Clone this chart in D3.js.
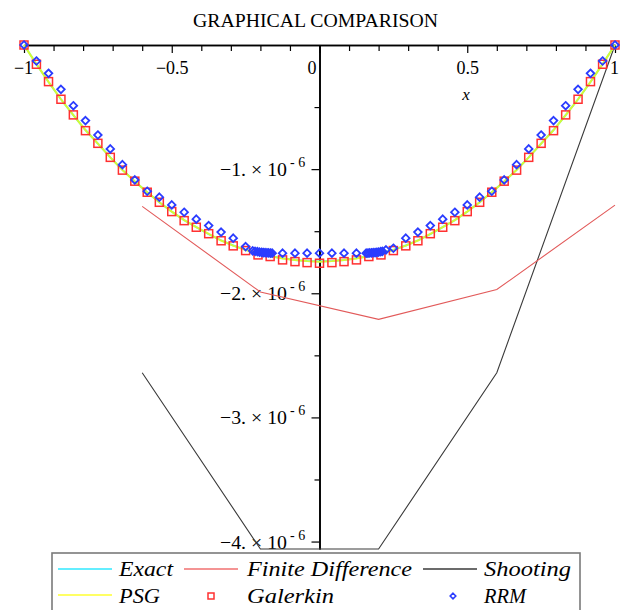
<!DOCTYPE html>
<meta charset="utf-8">
<style>
body { margin: 0; background: #fff; }
.tick text { font-family: "Liberation Serif", serif; font-size: 18px; fill: #000; }
.lab { font-family: "Liberation Serif", serif; font-size: 18px; }
.leg text { font-family: "Liberation Serif", serif; font-style: italic; font-size: 21px; }
</style>
<body>
<svg id="chart" width="626" height="610"></svg>
<script src="https://d3js.org/d3.v7.min.js"></script>
<script type="text/javascript">
// values are in units of 1e-6
var gridX = [-1, -0.958, -0.917, -0.875, -0.833, -0.792, -0.75, -0.708, -0.667, -0.625, -0.583, -0.542, -0.5,
  -0.458, -0.417, -0.375, -0.333, -0.292, -0.25, -0.208, -0.167, -0.125, -0.083, -0.042, 0,
  0.042, 0.083, 0.125, 0.167, 0.208, 0.25, 0.292, 0.333, 0.375, 0.417, 0.458, 0.5,
  0.542, 0.583, 0.625, 0.667, 0.708, 0.75, 0.792, 0.833, 0.875, 0.917, 0.958, 1];

var exactY = [0, -0.153, -0.298, -0.437, -0.565, -0.685, -0.795, -0.905, -1.006, -1.1, -1.186, -1.267, -1.342,
  -1.41, -1.468, -1.523, -1.574, -1.615, -1.65, -1.678, -1.7, -1.718, -1.731, -1.74, -1.745,
  -1.74, -1.731, -1.718, -1.7, -1.678, -1.65, -1.615, -1.574, -1.523, -1.468, -1.41, -1.342,
  -1.267, -1.186, -1.1, -1.006, -0.905, -0.795, -0.685, -0.565, -0.437, -0.298, -0.153, 0];

var psgY = [0, -0.154, -0.297, -0.437, -0.564, -0.686, -0.794, -0.905, -1.007, -1.099, -1.186, -1.267, -1.342,
  -1.411, -1.468, -1.522, -1.575, -1.616, -1.652, -1.68, -1.701, -1.719, -1.732, -1.741, -1.746,
  -1.741, -1.732, -1.719, -1.701, -1.68, -1.652, -1.616, -1.575, -1.522, -1.468, -1.411, -1.342,
  -1.267, -1.186, -1.099, -1.007, -0.905, -0.794, -0.686, -0.564, -0.437, -0.297, -0.154, 0];

var galerkinY = [0, -0.155, -0.295, -0.437, -0.563, -0.69, -0.792, -0.905, -1.008, -1.097, -1.186, -1.267, -1.342,
  -1.415, -1.468, -1.52, -1.577, -1.618, -1.656, -1.691, -1.704, -1.731, -1.745, -1.753, -1.758,
  -1.753, -1.745, -1.731, -1.704, -1.691, -1.656, -1.618, -1.577, -1.52, -1.468, -1.415, -1.342,
  -1.267, -1.186, -1.097, -1.008, -0.905, -0.792, -0.69, -0.563, -0.437, -0.295, -0.155, 0];

var rrmX = [-1, -0.958, -0.917, -0.875, -0.833, -0.792, -0.75, -0.708, -0.667, -0.625, -0.583, -0.542, -0.5,
  -0.458, -0.417, -0.375, -0.333, -0.292, -0.25,
  -0.226, -0.218, -0.21, -0.203, -0.196, -0.19, -0.184, -0.178, -0.172, -0.166, -0.16,
  -0.125, -0.083, -0.042, 0, 0.042, 0.083, 0.125,
  0.158, 0.164, 0.17, 0.176, 0.182, 0.188, 0.194, 0.2, 0.207, 0.213, 0.225,
  0.25, 0.292, 0.333, 0.375, 0.417, 0.458, 0.5,
  0.542, 0.583, 0.625, 0.667, 0.708, 0.75, 0.792, 0.833, 0.875, 0.917, 0.958, 1];

var rrmY = [0, -0.129, -0.228, -0.357, -0.489, -0.609, -0.725, -0.837, -0.964, -1.087, -1.178, -1.226, -1.288,
  -1.347, -1.403, -1.455, -1.507, -1.556, -1.624,
  -1.658, -1.662, -1.665, -1.668, -1.67, -1.672, -1.673, -1.674, -1.675, -1.676, -1.677,
  -1.677, -1.677, -1.677, -1.677, -1.677, -1.677, -1.677,
  -1.677, -1.676, -1.675, -1.674, -1.673, -1.672, -1.67, -1.668, -1.665, -1.662, -1.65,
  -1.637, -1.556, -1.507, -1.455, -1.403, -1.347, -1.288,
  -1.226, -1.178, -1.087, -0.964, -0.837, -0.725, -0.609, -0.489, -0.357, -0.228, -0.129, 0];

var nodeX = [-0.6, -0.2, 0.2, 0.6, 1.0];
var finiteDiffY = [-1.30, -1.99, -2.21, -1.97, -1.29];
var shootingY = [-2.64, -4.06, -4.06, -2.64, 0];

var xMajor = [-1, -0.5, 0, 0.5, 1];
var xMinor = [-0.9, -0.8, -0.7, -0.6, -0.4, -0.3, -0.2, -0.1, 0.1, 0.2, 0.3, 0.4, 0.6, 0.7, 0.8, 0.9];
var yMajor = [-1, -2, -3, -4];
var yMinor = [-0.5, -1.5, -2.5, -3.5];

var svg = d3.select("#chart");

var x = d3.scaleLinear().domain([-1, 1]).range([24, 615]);
var y = d3.scaleLinear().domain([0, -4.06]).range([45, 549]);

// title
svg.append("text")
  .attr("class", "lab")
  .attr("x", 315.5).attr("y", 27)
  .attr("text-anchor", "middle")
  .attr("textLength", 245)
  .attr("lengthAdjust", "spacingAndGlyphs")
  .style("font-size", "18px")
  .text("GRAPHICAL COMPARISON");

// x axis along the top
var xAxisG = svg.append("g").attr("transform", "translate(0,45)");
xAxisG.call(d3.axisBottom(x).tickValues(xMinor).tickSize(6).tickSizeOuter(0).tickFormat(""));
xAxisG.append("g").call(d3.axisBottom(x).tickValues(xMajor).tickSize(8).tickSizeOuter(0)
  .tickFormat(function(d) { return d === 0 ? "0" : (d < 0 ? "\u2212" + (-d) : "" + d); }));
xAxisG.selectAll("path").attr("stroke", "#000").attr("stroke-width", 1.6);
xAxisG.selectAll("line").attr("stroke", "#000").attr("stroke-width", 1.2);
xAxisG.selectAll(".tick text").attr("y", 12).attr("dy", "0.95em");
xAxisG.selectAll(".tick").filter(function(d) { return d === 0; }).select("text").attr("dx", -8);
xAxisG.selectAll(".tick").filter(function(d) { return d === -1; }).select("text").attr("dx", -1);
xAxisG.selectAll(".tick").filter(function(d) { return d === 1; }).select("text").attr("dx", -1);

svg.append("text")
  .attr("x", 466).attr("y", 100)
  .attr("text-anchor", "middle")
  .style("font-family", "Liberation Serif, serif")
  .style("font-style", "italic")
  .style("font-size", "17px")
  .text("x");

// y axis down the middle
var yAxisG = svg.append("g").attr("transform", "translate(" + x(0) + ",0)");
yAxisG.call(d3.axisLeft(y).tickValues(yMinor).tickSize(5).tickSizeOuter(0).tickFormat(""));
yAxisG.append("g").call(d3.axisLeft(y).tickValues(yMajor).tickSize(8).tickSizeOuter(0).tickFormat(""));
yAxisG.selectAll("path").attr("stroke", "#000").attr("stroke-width", 1.6);
yAxisG.selectAll("line").attr("stroke", "#000").attr("stroke-width", 1.2);

var yLab = svg.append("g");
yLab.selectAll(".ymain")
  .data(yMajor)
  .enter().append("text")
    .attr("class", "lab")
    .attr("x", 220)
    .attr("y", function(d) { return y(d) + 7; })
    .attr("textLength", 67)
    .attr("lengthAdjust", "spacingAndGlyphs")
    .style("font-size", "19px")
    .text(function(d) { return "\u2212" + (-d) + ". \u00d7 10"; });
yLab.selectAll(".ysup")
  .data(yMajor)
  .enter().append("text")
    .attr("class", "lab")
    .attr("x", 290)
    .attr("y", function(d) { return y(d) - 2; })
    .style("font-size", "14px")
    .text("- 6");

// series
var line = d3.line()
  .x(function(d) { return x(d[0]); })
  .y(function(d) { return y(d[1]); });

function pairs(xs, ys) { return xs.map(function(v, i) { return [v, ys[i]]; }); }

var plot = svg.append("g");

plot.append("path")
  .attr("d", line(pairs(nodeX, shootingY)))
  .attr("fill", "none").attr("stroke", "#3a3a3a").attr("stroke-width", 1.1);

plot.append("path")
  .attr("d", line(pairs(nodeX, finiteDiffY)))
  .attr("fill", "none").attr("stroke", "#e25a5a").attr("stroke-width", 1.1);

plot.append("path")
  .attr("d", line(pairs(gridX, exactY)))
  .attr("fill", "none").attr("stroke", "#30e8ff").attr("stroke-width", 2);

plot.append("path")
  .attr("d", line(pairs(gridX, psgY)))
  .attr("fill", "none").attr("stroke", "#ffff00").attr("stroke-opacity", 0.8).attr("stroke-width", 2);

plot.selectAll(".sq")
  .data(pairs(gridX, galerkinY))
  .enter().append("rect")
    .attr("x", function(d) { return x(d[0]) - 4; })
    .attr("y", function(d) { return y(d[1]) - 4; })
    .attr("width", 8).attr("height", 8)
    .attr("fill", "none").attr("stroke", "#ff3030").attr("stroke-width", 1.5);

var diamond = "M0,-3.8L3.8,0L0,3.8L-3.8,0Z";
plot.selectAll(".dm")
  .data(pairs(rrmX, rrmY))
  .enter().append("path")
    .attr("transform", function(d) { return "translate(" + x(d[0]) + "," + y(d[1]) + ")"; })
    .attr("d", diamond)
    .attr("fill", "none").attr("stroke", "#2a3cff").attr("stroke-width", 1.8);

// legend
var leg = svg.append("g").attr("class", "leg");
leg.append("rect")
  .attr("x", 52).attr("y", 553).attr("width", 528).attr("height", 80)
  .attr("fill", "#fff").attr("stroke", "#7a7a7a").attr("stroke-width", 1.6);

var legLines = [
  {name: "Exact", color: "#30e8ff", x0: 58, tx: 119, row: 0},
  {name: "Finite Difference", color: "#f07070", x0: 184, tx: 247, row: 0},
  {name: "Shooting", color: "#3a3a3a", x0: 423, tx: 484, row: 0},
  {name: "PSG", color: "#ffff30", x0: 58, tx: 119, row: 1}
];
var rowY = [569, 595];
var rowText = [576, 603];

leg.selectAll(".ll")
  .data(legLines)
  .enter().append("line")
    .attr("x1", function(d) { return d.x0; })
    .attr("x2", function(d) { return d.x0 + 54; })
    .attr("y1", function(d) { return rowY[d.row]; })
    .attr("y2", function(d) { return rowY[d.row]; })
    .attr("stroke", function(d) { return d.color; })
    .attr("stroke-width", 1.5);

leg.append("rect")
  .attr("x", 208).attr("y", 593).attr("width", 6).attr("height", 6)
  .attr("fill", "none").attr("stroke", "#ff3030").attr("stroke-width", 1.5);
leg.append("path")
  .attr("transform", "translate(453,596)")
  .attr("d", "M0,-2.8L2.8,0L0,2.8L-2.8,0Z")
  .attr("fill", "none").attr("stroke", "#2a3cff").attr("stroke-width", 1.6);

var legText = [
  {name: "Exact", x: 119, row: 0, w: 54},
  {name: "Finite Difference", x: 247, row: 0, w: 165},
  {name: "Shooting", x: 484, row: 0, w: 87},
  {name: "PSG", x: 119, row: 1, w: 41},
  {name: "Galerkin", x: 247, row: 1, w: 87},
  {name: "RRM", x: 484, row: 1, w: 42}
];
leg.selectAll(".lt")
  .data(legText)
  .enter().append("text")
    .attr("x", function(d) { return d.x; })
    .attr("y", function(d) { return rowText[d.row]; })
    .attr("textLength", function(d) { return d.w; })
    .attr("lengthAdjust", "spacingAndGlyphs")
    .text(function(d) { return d.name; });
</script>
</body>
